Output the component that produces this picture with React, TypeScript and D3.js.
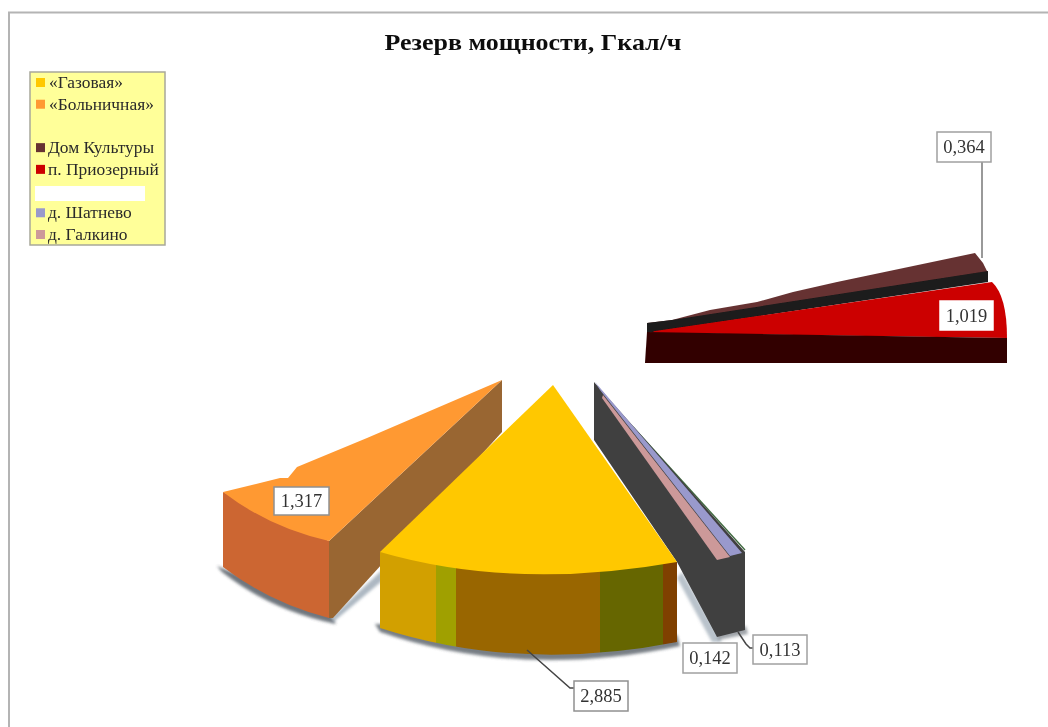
import React from "react";
import * as d3 from "d3";

// ---------- data ----------
const title = "Резерв мощности, Гкал/ч";
const legendNames = ["«Газовая»", "«Больничная»", "", "Дом Культуры", "п. Приозерный", "", "д. Шатнево", "д. Галкино"];
const legendColors = ["#FFC800", "#FF9933", "none", "#663333", "#CC0000", "none", "#9999CC", "#CC9999"];
const valueGas = 2.885;
const valueHospital = 1.317;
const valueCulture = 0.364;
const valueLake = 1.019;
const valueShatnevo = 0.142;
const valueGalkino = 0.113;

// ---------- geometry of the hand-arranged exploded slices (layout, not data) ----------
type P = [number, number];
const W = 1048, H = 727;
const line = d3.line<P>();
const poly = (pts: P[]) => line(pts) + "Z";

// a path made of a straight run, then one curved edge, then a straight run back
function curved(start: P[], ctrl: P, end: P, rest: P[] = []) {
  const p = d3.path();
  start.forEach((q, i) => (i === 0 ? p.moveTo(q[0], q[1]) : p.lineTo(q[0], q[1])));
  p.quadraticCurveTo(ctrl[0], ctrl[1], end[0], end[1]);
  rest.forEach((q) => p.lineTo(q[0], q[1]));
  p.closePath();
  return p.toString();
}

const gasApex: P = [553, 385];
const gasL: P = [380, 552];
const gasR: P = [677, 562];
const gasCtrl: P = [515, 591];
const gasLb: P = [380, 628];
const gasRb: P = [677, 642];
const gasCtrlB: P = [520, 673];

const gasBands: { x0: number; x1: number; color: string }[] = [
  { x0: 380, x1: 436, color: "#D2A000" },
  { x0: 436, x1: 456, color: "#A0A000" },
  { x0: 456, x1: 600, color: "#996600" },
  { x0: 600, x1: 663, color: "#666600" },
  { x0: 663, x1: 678, color: "#7F3F00" },
];

type Box = { text: string; x: number; y: number; w: number; h: number; stroke: string };
const fmt = (v: number) => d3.format(".3f")(v).replace(".", ",");
const boxes: Box[] = [
  { text: fmt(valueCulture), x: 937, y: 132, w: 54, h: 30, stroke: "#a0a0a0" },
  { text: fmt(valueLake), x: 940, y: 301, w: 53, h: 29, stroke: "#ffffff" },
  { text: fmt(valueHospital), x: 274, y: 487, w: 55, h: 28, stroke: "#909090" },
  { text: fmt(valueGas), x: 574, y: 681, w: 54, h: 30, stroke: "#909090" },
  { text: fmt(valueShatnevo), x: 683, y: 643, w: 54, h: 30, stroke: "#a0a0a0" },
  { text: fmt(valueGalkino), x: 753, y: 635, w: 54, h: 29, stroke: "#a0a0a0" },
];

const yLegend = d3.scaleLinear().domain([0, 7]).range([83, 235]);

export default function App() {
  const serif = "'Liberation Serif', serif";
  const gasFront = curved([gasL, gasLb], gasCtrlB, gasRb, [gasR]);
  const hospFront = curved([[223, 492], [223, 567]], [270, 603], [329, 618], [[329, 541]]);
  return (
    <svg width={W} height={H} viewBox={`0 0 ${W} ${H}`} style={{ position: "absolute", left: 0, top: 0, background: "#fff" }} fontFamily={serif}>
      <defs>
        <filter id="soft" x="-2%" y="-2%" width="104%" height="104%">
          <feGaussianBlur stdDeviation="0.45" />
        </filter>
        <filter id="shadow" x="-20%" y="-20%" width="140%" height="140%">
          <feGaussianBlur stdDeviation="1.4" />
        </filter>
        <clipPath id="gasFront">
          <path d={gasFront} />
        </clipPath>
      </defs>
      <g filter="url(#soft)">
        {/* frame */}
        <path d={`M9,${H}V12.5H${W}`} fill="none" stroke="#b4b4b4" strokeWidth={2} />

        <text x={533} y={50} textAnchor="middle" fontSize={24} fontWeight="bold" fill="#111" textLength={297} lengthAdjust="spacingAndGlyphs">{title}</text>

        {/* legend */}
        <rect x={30} y={72} width={135} height={173} fill="#FFFF99" stroke="#a8a89a" strokeWidth={1.5} />
        <rect x={35} y={186} width={110} height={15} fill="#fff" />
        {legendNames.map((n, i) =>
          n === "" ? null : (
            <g key={i}>
              <rect x={36} y={yLegend(i) - 5} width={9} height={9} fill={legendColors[i]} />
              <text x={i < 2 ? 49 : 48} y={yLegend(i) + 5} fontSize={17.4} fill="#2a2a2a">{n}</text>
            </g>
          )
        )}

        {/* upper-right group */}
        <path d={poly([[647, 323], [672, 320], [710, 310], [757, 302], [793, 292], [837, 282], [975, 253], [983, 263], [988, 273], [672, 323]])} fill="#663333" />
        <path d={poly([[647, 323], [672, 320], [988, 271], [988, 282], [660, 331], [647, 333]])} fill="#1a1a1a" />
        <path d={curved([[650, 333], [655, 331], [992, 282]], [1007, 296], [1007, 338])} fill="#CC0000" />
        <path d={poly([[647, 332], [1007, 338], [1007, 363], [645, 363]])} fill="#300000" />
        <path d={line([[982, 162], [982, 258]])!} fill="none" stroke="#999" strokeWidth={2} />

        {/* hospital slice */}
        <path d={curved([[217, 566], [222, 572]], [270, 610], [336, 624], [[329, 612]])} fill="#606870" filter="url(#shadow)" opacity={0.9} />
        <path d={poly([[332, 623], [382, 581], [382, 570], [333, 616]])} fill="#8a9aa8" filter="url(#shadow)" opacity={0.7} />
        <path d={poly([[502, 380], [502, 432], [333, 618], [329, 618], [329, 541]])} fill="#996633" />
        <path d={hospFront} fill="#CC6633" />
        <path d={curved([[502, 380], [367, 438], [297, 467], [288, 478], [280, 478], [223, 492]], [270, 528], [329, 541])} fill="#FF9933" />

        {/* small slices */}
        <path d={line([[633, 427], [745, 550]])!} fill="none" stroke="#3f6a3f" strokeWidth={1.4} />
        <path d={poly([[677, 578], [712, 642], [722, 642], [682, 572]])} fill="#8a9aa8" filter="url(#shadow)" opacity={0.6} />
        <path d={poly([[718, 640], [748, 634], [746, 626], [718, 634]])} fill="#606870" filter="url(#shadow)" opacity={0.6} />
        <path d={poly([[594, 382], [594, 440], [677, 562], [717, 637], [745, 630], [745, 552]])} fill="#404040" />
        <path d={poly([[595, 382], [742, 553], [730, 556], [600, 390]])} fill="#9999CC" />
        <path d={poly([[603, 395], [730, 557], [717, 560], [602, 398]])} fill="#CC9999" />

        {/* gas slice */}
        <path d={curved([[375, 624], [380, 632]], [520, 680], [680, 646], [[677, 635]])} fill="#606870" filter="url(#shadow)" opacity={0.85} />
        <g clipPath="url(#gasFront)">
          {gasBands.map((b) => (
            <rect key={b.x0} x={b.x0} y={540} width={b.x1 - b.x0} height={130} fill={b.color} />
          ))}
        </g>
        <path d={curved([gasApex, gasL], gasCtrl, gasR)} fill="#FFC800" />

        {/* leaders */}
        <path d={line([[527, 650], [570, 688], [576, 688]])!} fill="none" stroke="#444" strokeWidth={1.5} />
        <path d={line([[738, 632], [746, 644], [750, 648], [755, 648]])!} fill="none" stroke="#444" strokeWidth={1.5} />

        {/* value labels */}
        {boxes.map((b) => (
          <g key={b.text}>
            <rect x={b.x} y={b.y} width={b.w} height={b.h} fill="#fff" stroke={b.stroke} strokeWidth={1.5} />
            <text x={b.x + b.w / 2} y={b.y + b.h / 2 + 6} textAnchor="middle" fontSize={18.5} fill="#333">{b.text}</text>
          </g>
        ))}
      </g>
    </svg>
  );
}
